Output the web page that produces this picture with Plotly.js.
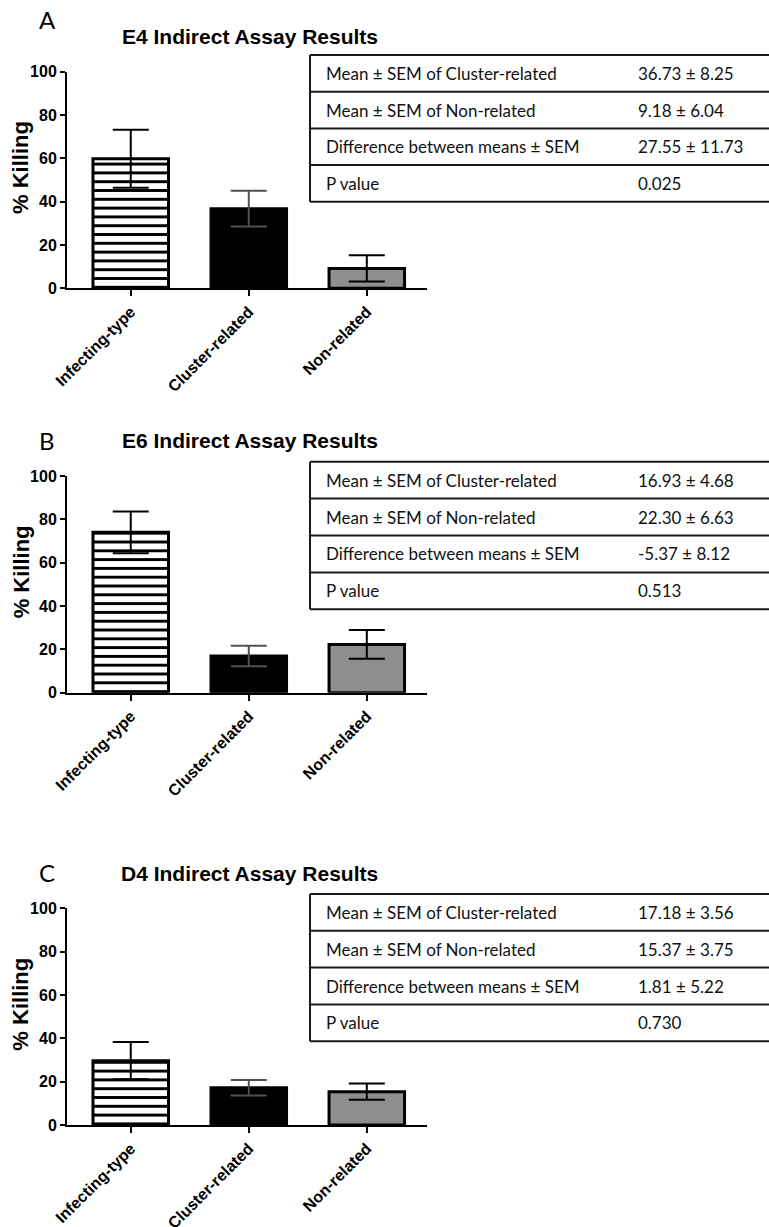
<!DOCTYPE html>
<html>
<head>
<meta charset="utf-8">
<script src="https://cdn.plot.ly/plotly-3.0.1.min.js"></script>
<style>html,body{margin:0;padding:0;background:#fff;}#chart{width:769px;height:1227px;}</style>
</head>
<body>
<div id="chart"></div>
<script>
// ---- data ----
const categories = ['Infecting-type', 'Cluster-related', 'Non-related'];

const e4Means = [59.8, 36.73, 9.18];
const e4Sem   = [13.4, 8.25, 6.04];
const e6Means = [74.0, 16.93, 22.30];
const e6Sem   = [9.6, 4.68, 6.63];
const d4Means = [29.7, 17.18, 15.37];
const d4Sem   = [8.6, 3.56, 3.75];

const panelLetters = ['A', 'B', 'C'];
const panelTitles = ['E4 Indirect Assay Results', 'E6 Indirect Assay Results', 'D4 Indirect Assay Results'];

const tableLabels = ['Mean ± SEM of Cluster-related', 'Mean ± SEM of Non-related', 'Difference between means ± SEM', 'P value'];
const e4Table = ['36.73 ± 8.25', '9.18 ± 6.04', '27.55 ± 11.73', '0.025'];
const e6Table = ['16.93 ± 4.68', '22.30 ± 6.63', '-5.37 ± 8.12', '0.513'];
const d4Table = ['17.18 ± 3.56', '15.37 ± 3.75', '1.81 ± 5.22', '0.730'];

const yTickVals = [0, 20, 40, 60, 80, 100];

// ---- layout geometry (pixels) ----
const W = 769, H = 1227;
const panels = [
  {means: e4Means, sem: e4Sem, table: e4Table, y0: 288.3, y100: 71.7, letterY: 20, titleY: 36, tTop: 55, tRow: 36.7},
  {means: e6Means, sem: e6Sem, table: e6Table, y0: 692.7, y100: 476, letterY: 440, titleY: 440, tTop: 461.7, tRow: 36.9},
  {means: d4Means, sem: d4Sem, table: d4Table, y0: 1125, y100: 908.3, letterY: 872, titleY: 873, tTop: 894, tRow: 36.8}
];
const px = v => v / W;
const py = v => 1 - v / H;

const fills = ['white', 'black', '#8e8e8e'];
const errColors = ['black', '#505050', 'black'];
const boldFont = 'Liberation Sans, Arial, sans-serif';
const tableFont = 'Lato, Open Sans, sans-serif';

const traces = [];
const layout = {
  width: W, height: H,
  margin: {l: 0, r: 0, t: 0, b: 0},
  paper_bgcolor: 'white', plot_bgcolor: 'white',
  showlegend: false,
  barmode: 'overlay',
  font: {family: boldFont, color: 'black'},
  annotations: [], shapes: []
};

panels.forEach((p, pi) => {
  const sfx = pi === 0 ? '' : String(pi + 1);
  categories.forEach((c, ci) => {
    const marker = {color: fills[ci], line: {color: 'black', width: 3}};
    if (ci === 0) {
      marker.pattern = {shape: '-', fgcolor: 'black', bgcolor: 'white', size: 8.8, solidity: 0.33, fillmode: 'replace'};
    }
    traces.push({
      type: 'bar', x: [c], y: [p.means[ci]], width: 0.64,
      xaxis: 'x' + sfx, yaxis: 'y' + sfx,
      marker: marker,
      error_y: {type: 'data', array: [p.sem[ci]], visible: true, color: errColors[ci], thickness: 2, width: 18},
      hoverinfo: 'skip'
    });
  });
  layout['xaxis' + sfx] = {
    domain: [px(67), px(427)], anchor: 'y' + sfx,
    range: [-0.54, 2.51], type: 'category',
    showline: true, linecolor: 'black', linewidth: 2,
    ticks: 'outside', ticklen: 6, tickwidth: 2, tickcolor: 'black',
    tickangle: -45, tickfont: {family: boldFont, size: 16, weight: 'bold', color: 'black'},
    showgrid: false, zeroline: false, fixedrange: true
  };
  layout['yaxis' + sfx] = {
    domain: [py(p.y0), py(p.y100)], anchor: 'x' + sfx,
    range: [0, 100], tickvals: yTickVals,
    showline: true, linecolor: 'black', linewidth: 2,
    ticks: 'outside', ticklen: 5, tickwidth: 2, tickcolor: 'black',
    tickfont: {family: boldFont, size: 16, weight: 'bold', color: 'black'},
    showgrid: false, zeroline: false, fixedrange: true
  };
  // panel letter
  layout.annotations.push({
    xref: 'paper', yref: 'paper', x: px(47), y: py(p.letterY), xanchor: 'center', yanchor: 'middle',
    text: panelLetters[pi], showarrow: false,
    font: {family: tableFont, size: 24, color: 'black'}
  });
  // title
  layout.annotations.push({
    xref: 'paper', yref: 'paper', x: px(250), y: py(p.titleY), xanchor: 'center', yanchor: 'middle',
    text: '<b>' + panelTitles[pi] + '</b>', showarrow: false,
    font: {family: boldFont, size: 21, color: 'black'}
  });
  // y axis title
  layout.annotations.push({
    xref: 'paper', yref: 'paper', x: px(21), y: py((p.y0 + p.y100) / 2 - 12), xanchor: 'center', yanchor: 'middle',
    text: '<b>% Killing</b>', textangle: -90, showarrow: false,
    font: {family: boldFont, size: 22, color: 'black'}
  });
  // table
  const tl = 310, tr = 800;
  const nRows = tableLabels.length;
  const tBottom = p.tTop + p.tRow * nRows;
  layout.shapes.push({type: 'line', xref: 'paper', yref: 'paper', x0: px(tl), x1: px(tl), y0: py(p.tTop), y1: py(tBottom), line: {color: '#1a1a1a', width: 2}});
  for (let r = 0; r <= nRows; r++) {
    const yy = p.tTop + p.tRow * r;
    layout.shapes.push({type: 'line', xref: 'paper', yref: 'paper', x0: px(tl), x1: px(tr), y0: py(yy), y1: py(yy), line: {color: '#1a1a1a', width: 2}});
  }
  tableLabels.forEach((lab, r) => {
    const yc = p.tTop + p.tRow * (r + 0.5);
    layout.annotations.push({
      xref: 'paper', yref: 'paper', x: px(324), y: py(yc), xanchor: 'left', yanchor: 'middle',
      text: lab, showarrow: false,
      font: {family: tableFont, size: 17, color: '#111'}
    });
    layout.annotations.push({
      xref: 'paper', yref: 'paper', x: px(636), y: py(yc), xanchor: 'left', yanchor: 'middle',
      text: p.table[r], showarrow: false,
      font: {family: tableFont, size: 17, color: '#111'}
    });
  });
});

Plotly.newPlot('chart', traces, layout, {displayModeBar: false, staticPlot: true});
</script>
</body>
</html>
